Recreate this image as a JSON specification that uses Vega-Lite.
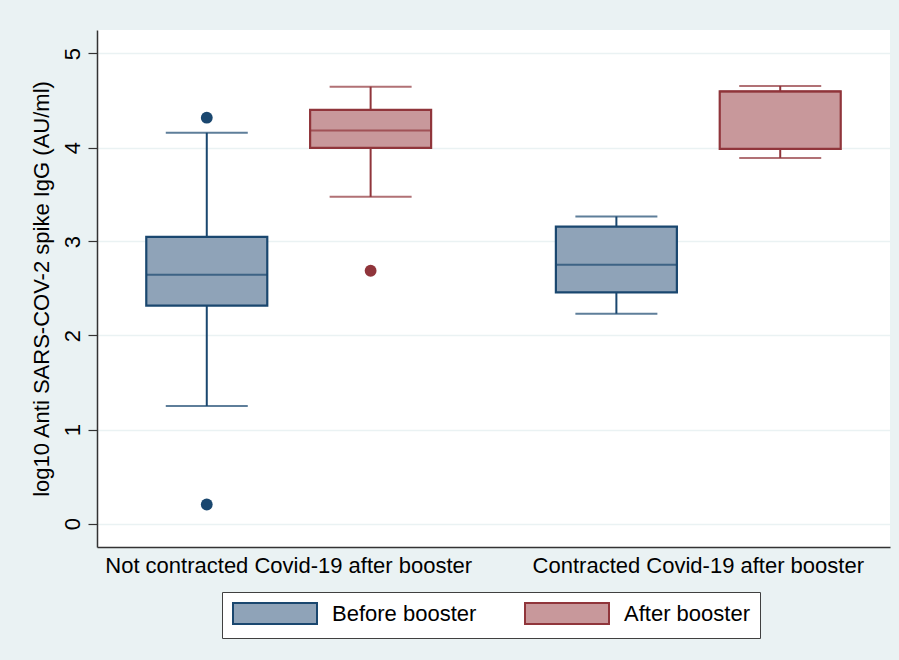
{
  "$schema": "https://vega.github.io/schema/vega-lite/v6.json",
  "width": 793,
  "height": 517,
  "autosize": {"type": "none"},
  "padding": {"left": 97, "top": 30, "right": 9, "bottom": 113},
  "background": "#EAF2F3",
  "config": {
    "font": "Liberation Sans",
    "view": {"fill": "white", "stroke": null},
    "axisY": {
      "tickCount": 6,
      "labelAngle": -90,
      "labelFontSize": 22,
      "titleFontSize": 22,
      "titleFontWeight": "normal",
      "labelColor": "black",
      "titleColor": "black",
      "gridColor": "#EAF2F3",
      "gridWidth": 1.5,
      "domainColor": "#333333",
      "domainWidth": 1.5,
      "tickColor": "#333333",
      "tickSize": 9,
      "tickWidth": 1.2,
      "labelPadding": 4,
      "titlePadding": 8
    },
    "axisX": {
      "ticks": false,
      "grid": false,
      "labelFontSize": 22,
      "labelColor": "black",
      "labelPadding": 8,
      "labelLimit": 0,
      "labelAngle": 0,
      "domainColor": "#333333",
      "domainWidth": 1.5
    }
  },
  "datasets": {
    "boxes": [
      {"group": "Not contracted Covid-19 after booster", "phase": "Before booster", "lower": 1.25, "q1": 2.317, "median": 2.646, "q3": 3.05, "upper": 4.158},
      {"group": "Not contracted Covid-19 after booster", "phase": "After booster", "lower": 3.475, "q1": 3.996, "median": 4.18, "q3": 4.4, "upper": 4.647},
      {"group": "Contracted Covid-19 after booster", "phase": "Before booster", "lower": 2.232, "q1": 2.458, "median": 2.752, "q3": 3.159, "upper": 3.266},
      {"group": "Contracted Covid-19 after booster", "phase": "After booster", "lower": 3.889, "q1": 3.985, "median": 4.597, "q3": 4.597, "upper": 4.655}
    ],
    "outliers": [
      {"group": "Not contracted Covid-19 after booster", "phase": "Before booster", "value": 4.317},
      {"group": "Not contracted Covid-19 after booster", "phase": "Before booster", "value": 0.202},
      {"group": "Not contracted Covid-19 after booster", "phase": "After booster", "value": 2.689}
    ]
  },
  "encoding": {
    "x": {
      "field": "group",
      "type": "nominal",
      "sort": ["Not contracted Covid-19 after booster", "Contracted Covid-19 after booster"],
      "title": null,
      "scale": {"paddingInner": 0.2, "paddingOuter": 0.068}
    },
    "xOffset": {
      "field": "phase",
      "type": "nominal",
      "sort": ["Before booster", "After booster"],
      "scale": {"paddingInner": 0, "paddingOuter": 0}
    }
  },
  "layer": [
    {
      "data": {"name": "boxes"},
      "mark": {"type": "rule", "strokeWidth": 2},
      "encoding": {
        "y": {"field": "lower", "type": "quantitative", "title": "log10 Anti SARS-COV-2 spike IgG (AU/ml)", "scale": {"domain": [-0.25, 5.25], "nice": false, "zero": false}},
        "y2": {"field": "upper"},
        "color": {"field": "phase", "type": "nominal", "scale": {"domain": ["After booster", "Before booster"], "range": ["#90353B", "#1A476F"]}, "legend": null}
      }
    },
    {
      "data": {"name": "boxes"},
      "mark": {"type": "tick", "size": 82, "thickness": 2},
      "encoding": {
        "y": {"field": "lower", "type": "quantitative", "title": "log10 Anti SARS-COV-2 spike IgG (AU/ml)"},
        "color": {"field": "phase", "type": "nominal", "legend": null}
      }
    },
    {
      "data": {"name": "boxes"},
      "mark": {"type": "tick", "size": 82, "thickness": 2},
      "encoding": {
        "y": {"field": "upper", "type": "quantitative", "title": "log10 Anti SARS-COV-2 spike IgG (AU/ml)"},
        "color": {"field": "phase", "type": "nominal", "legend": null}
      }
    },
    {
      "data": {"name": "boxes"},
      "mark": {"type": "bar", "width": 121, "strokeWidth": 2.2, "fillOpacity": 1},
      "encoding": {
        "y": {"field": "q1", "type": "quantitative", "title": "log10 Anti SARS-COV-2 spike IgG (AU/ml)"},
        "y2": {"field": "q3"},
        "fill": {
          "field": "phase", "type": "nominal",
          "scale": {"domain": ["Before booster", "After booster"], "range": ["#8FA3B8", "#C8989B"]},
          "legend": {"title": null, "orient": "none", "legendX": 125, "legendY": 562, "direction": "horizontal", "symbolType": "M-1,-1H7V1H-1Z", "symbolSize": 441, "symbolStrokeWidth": 2, "labelFontSize": 22, "labelOffset": 77, "columnPadding": 44, "padding": 10, "fillColor": "white", "strokeColor": "#404040", "labelColor": "black", "symbolOpacity": 1,
            "encode": {"symbols": {"update": {"stroke": {"scale": "stroke", "field": "value"}, "strokeWidth": {"value": 2}}}}}
        },
        "stroke": {
          "field": "phase", "type": "nominal",
          "scale": {"domain": ["After booster", "Before booster"], "range": ["#90353B", "#1A476F"]},
          "legend": null
        }
      }
    },
    {
      "data": {"name": "boxes"},
      "mark": {"type": "tick", "size": 121, "thickness": 2},
      "encoding": {
        "y": {"field": "median", "type": "quantitative", "title": "log10 Anti SARS-COV-2 spike IgG (AU/ml)"},
        "color": {"field": "phase", "type": "nominal", "legend": null}
      }
    },
    {
      "data": {"name": "outliers"},
      "mark": {"type": "circle", "size": 140, "opacity": 1},
      "encoding": {
        "y": {"field": "value", "type": "quantitative", "title": "log10 Anti SARS-COV-2 spike IgG (AU/ml)"},
        "color": {"field": "phase", "type": "nominal", "legend": null}
      }
    }
  ]
}
